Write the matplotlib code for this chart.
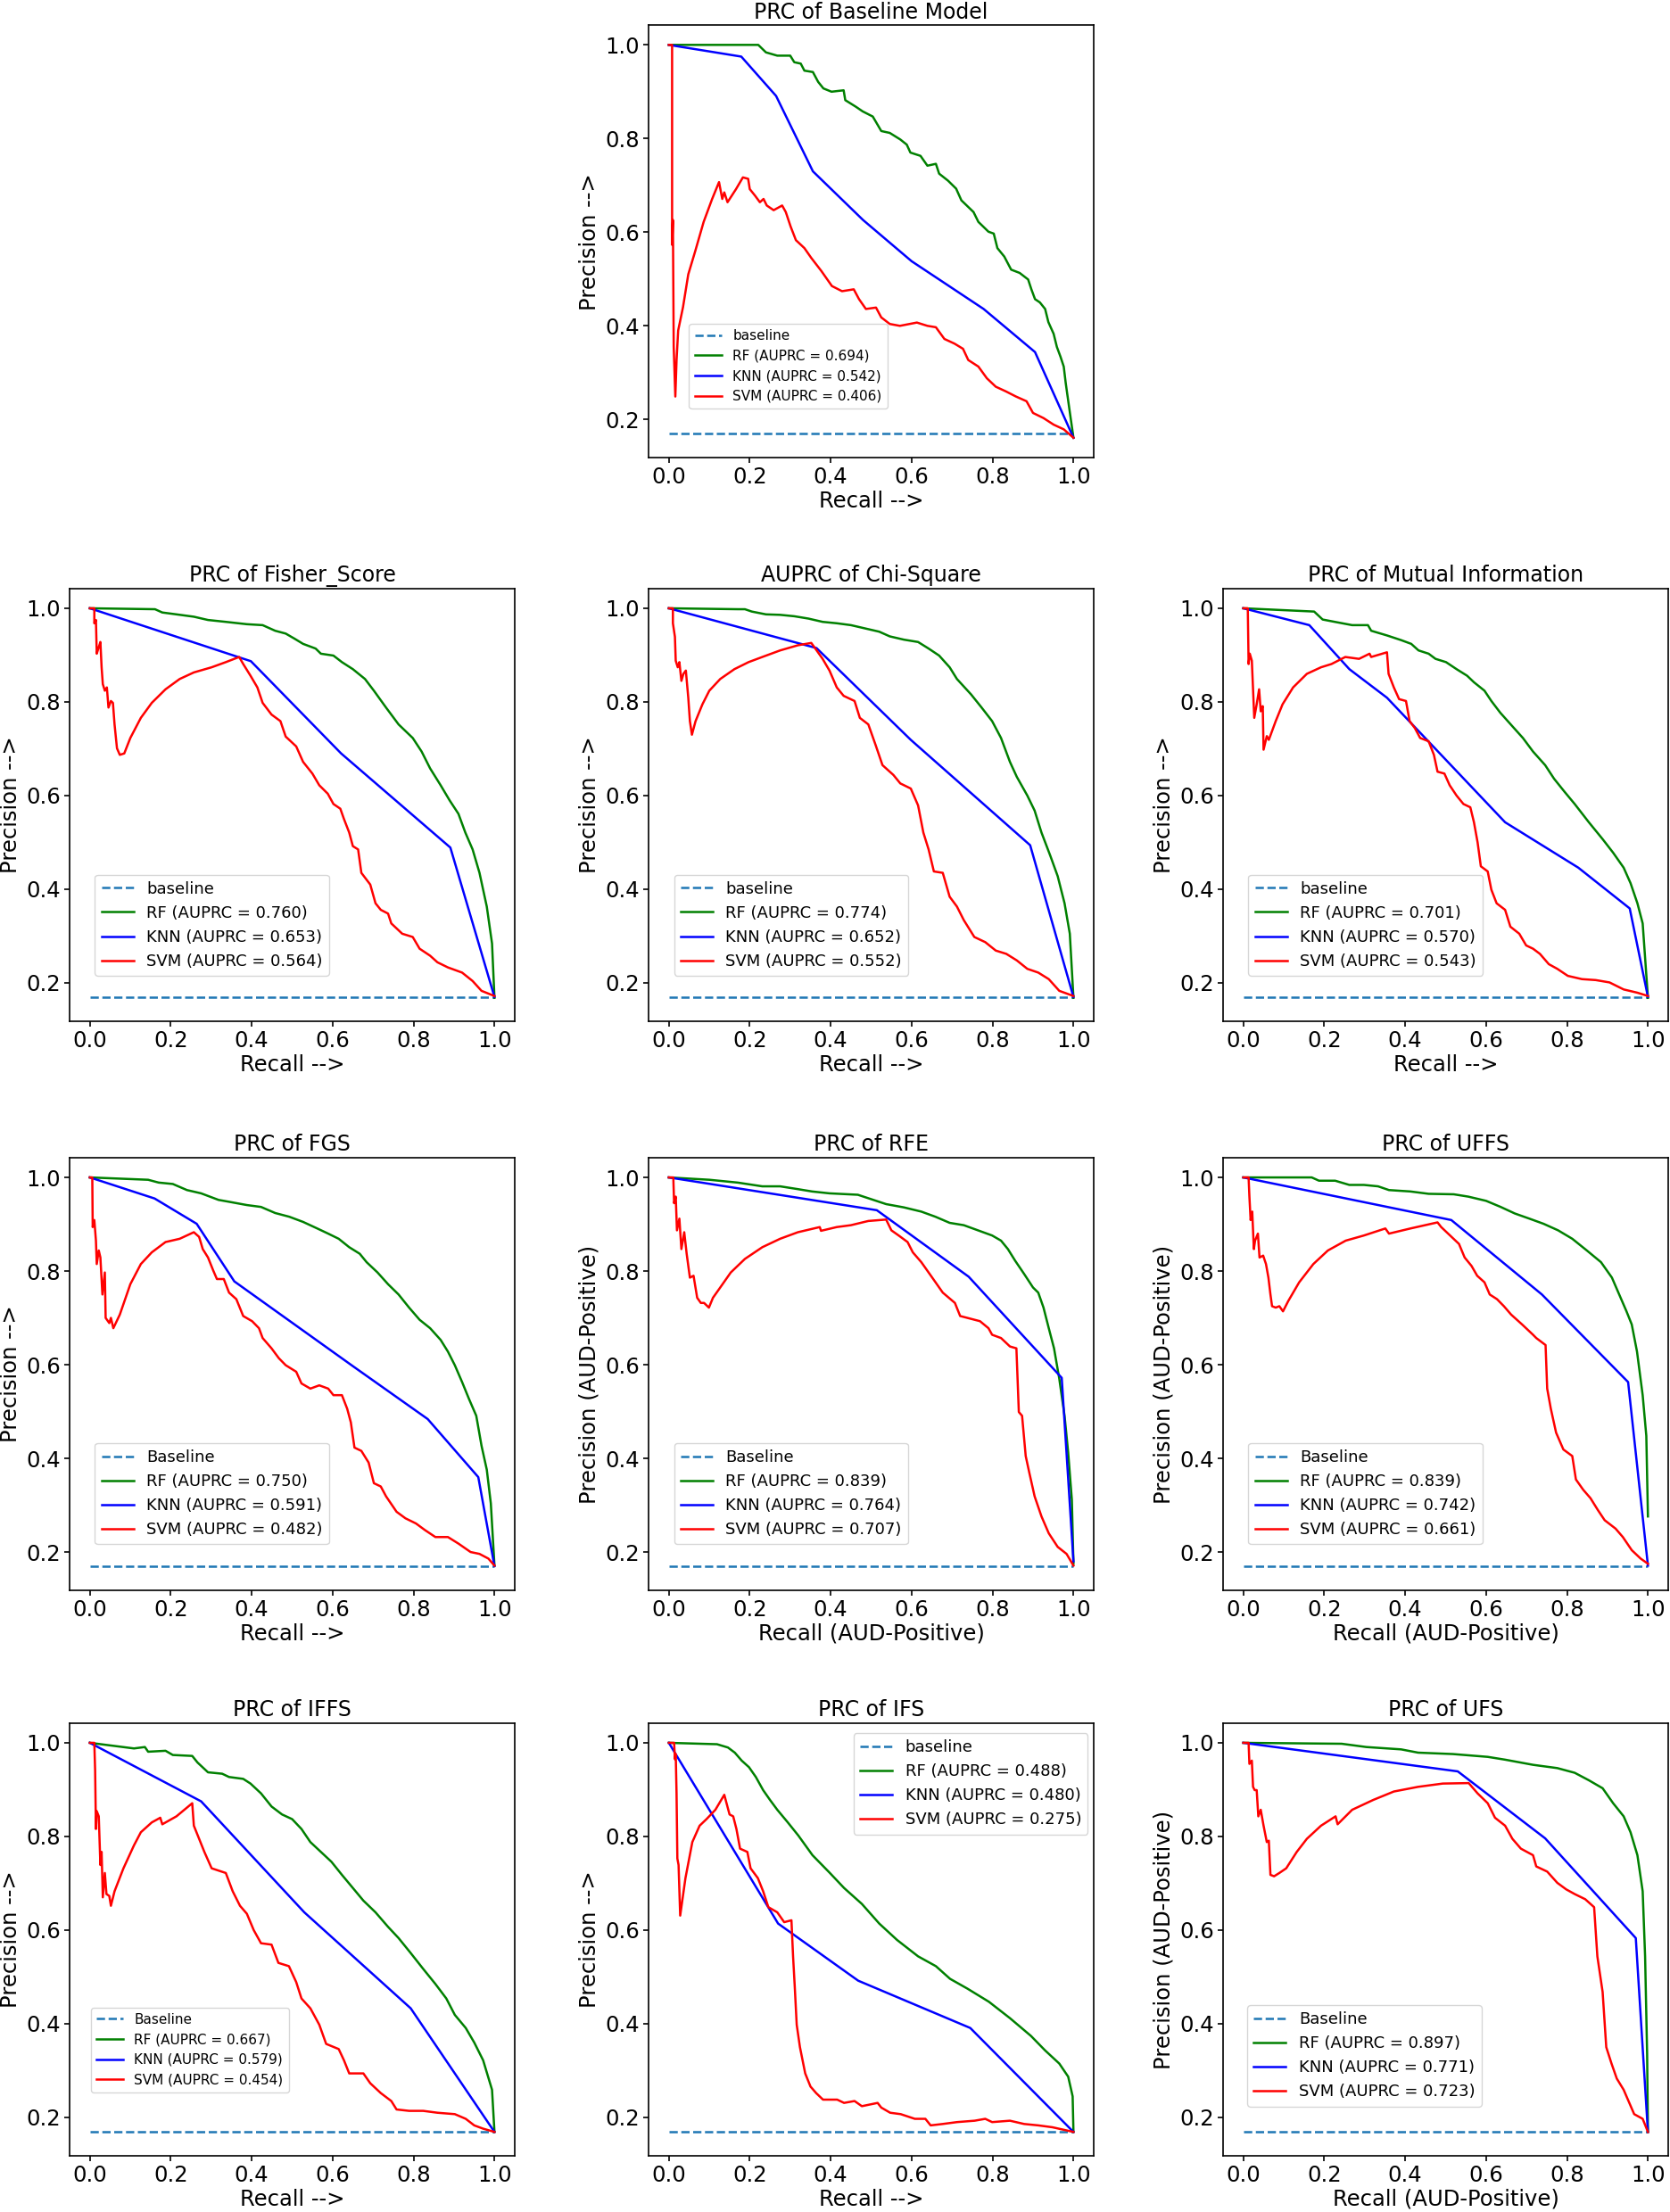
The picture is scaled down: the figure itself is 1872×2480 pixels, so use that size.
import matplotlib.pyplot as plt

# ---- data (recall, precision) ----
baseline_p = 0.17

base_rf = [(0,1.0),(0.221,1.0),(0.24,0.984),(0.268,0.977),(0.30,0.977),(0.31,0.963),(0.326,0.96),(0.335,0.945),
           (0.356,0.942),(0.369,0.921),(0.382,0.907),(0.402,0.90),(0.432,0.903),(0.436,0.882),(0.462,0.868),(0.479,0.858),
           (0.504,0.847),(0.525,0.816),(0.546,0.812),(0.572,0.798),(0.588,0.787),(0.597,0.77),(0.622,0.763),(0.639,0.742),
           (0.66,0.746),(0.668,0.725),(0.69,0.71),(0.71,0.693),(0.723,0.668),(0.753,0.643),(0.765,0.622),(0.79,0.601),
           (0.803,0.597),(0.812,0.566),(0.829,0.548),(0.846,0.52),(0.867,0.513),(0.888,0.499),(0.896,0.478),(0.905,0.457),
           (0.917,0.45),(0.93,0.436),(0.938,0.408),(0.951,0.383),(0.959,0.355),(0.968,0.334),(0.976,0.313),(0.981,0.277),
           (0.989,0.228),(1.0,0.161)]
base_knn = [(0,1.0),(0.179,0.975),(0.265,0.891),(0.356,0.73),(0.48,0.626),(0.60,0.538),(0.778,0.436),(0.905,0.344),(1.0,0.161)]
base_svm = [(0,1.0),(0.008,1.0),(0.008,0.573),(0.010,0.626),(0.012,0.355),(0.016,0.249),(0.019,0.327),(0.023,0.39),
            (0.035,0.44),(0.048,0.51),(0.065,0.559),(0.086,0.622),(0.107,0.671),(0.124,0.707),(0.132,0.671),(0.137,0.685),
            (0.145,0.664),(0.166,0.692),(0.183,0.717),(0.196,0.714),(0.20,0.692),(0.213,0.678),(0.225,0.664),(0.234,0.671),
            (0.242,0.657),(0.259,0.647),(0.28,0.657),(0.289,0.643),(0.301,0.612),(0.314,0.583),(0.335,0.566),(0.352,0.545),
            (0.377,0.517),(0.403,0.485),(0.428,0.474),(0.457,0.478),(0.47,0.457),(0.487,0.436),(0.512,0.439),(0.525,0.418),
            (0.546,0.404),(0.571,0.40),(0.613,0.407),(0.639,0.40),(0.66,0.397),(0.681,0.372),(0.706,0.362),(0.727,0.351),
            (0.74,0.327),(0.765,0.313),(0.786,0.288),(0.808,0.27),(0.833,0.26),(0.858,0.249),(0.884,0.239),(0.90,0.214),
            (0.926,0.203),(0.951,0.189),(0.976,0.179),(1.0,0.161)]

fish_rf = [(0,1.0),(0.161,0.998),(0.179,0.991),(0.214,0.987),(0.257,0.982),(0.292,0.975),(0.336,0.971),(0.388,0.966),
           (0.427,0.964),(0.458,0.952),(0.484,0.946),(0.506,0.935),(0.527,0.924),(0.558,0.914),(0.571,0.903),(0.602,0.899),
           (0.623,0.885),(0.65,0.87),(0.68,0.849),(0.702,0.824),(0.732,0.788),(0.763,0.752),(0.798,0.723),(0.82,0.694),
           (0.841,0.658),(0.867,0.622),(0.889,0.59),(0.911,0.561),(0.928,0.521),(0.946,0.485),(0.963,0.435),(0.981,0.363),
           (0.994,0.284),(1.0,0.168)]
fish_knn = [(0,1.0),(0.398,0.887),(0.621,0.69),(0.891,0.489),(1.0,0.17)]
fish_svm = [(0,1.0),(0.011,1.0),(0.011,0.968),(0.015,0.975),(0.017,0.903),(0.022,0.917),(0.026,0.928),(0.029,0.874),
            (0.032,0.838),(0.037,0.824),(0.042,0.831),(0.046,0.788),(0.052,0.802),(0.057,0.798),(0.061,0.752),(0.067,0.701),
            (0.074,0.687),(0.085,0.69),(0.10,0.723),(0.126,0.766),(0.153,0.798),(0.187,0.827),(0.222,0.849),(0.257,0.863),
            (0.301,0.874),(0.336,0.885),(0.369,0.896),(0.379,0.881),(0.397,0.856),(0.414,0.831),(0.427,0.798),(0.449,0.773),
            (0.471,0.759),(0.484,0.726),(0.51,0.705),(0.527,0.672),(0.55,0.647),(0.567,0.622),(0.588,0.604),(0.602,0.582),
            (0.619,0.572),(0.628,0.55),(0.641,0.521),(0.65,0.492),(0.663,0.485),(0.671,0.435),(0.693,0.41),(0.706,0.37),
            (0.719,0.356),(0.737,0.348),(0.745,0.327),(0.772,0.305),(0.798,0.298),(0.815,0.273),(0.841,0.258),(0.859,0.244),
            (0.885,0.233),(0.92,0.222),(0.946,0.204),(0.968,0.183),(1.0,0.172)]

chi_rf = [(0,1.0),(0.17,0.998),(0.188,0.998),(0.205,0.993),(0.24,0.987),(0.275,0.986),(0.31,0.983),(0.345,0.978),
          (0.38,0.971),(0.415,0.968),(0.45,0.964),(0.485,0.957),(0.52,0.95),(0.546,0.94),(0.581,0.933),(0.616,0.928),
          (0.642,0.914),(0.668,0.899),(0.694,0.874),(0.712,0.849),(0.747,0.816),(0.773,0.788),(0.799,0.759),(0.821,0.723),
          (0.843,0.672),(0.86,0.64),(0.886,0.60),(0.904,0.568),(0.921,0.521),(0.943,0.471),(0.961,0.428),(0.978,0.37),
          (0.991,0.305),(1.0,0.168)]
chi_knn = [(0,1.0),(0.365,0.915),(0.598,0.719),(0.893,0.494),(1.0,0.17)]
chi_svm = [(0,1.0),(0.01,1.0),(0.01,0.968),(0.015,0.939),(0.017,0.888),(0.022,0.874),(0.026,0.885),(0.031,0.845),
           (0.036,0.86),(0.042,0.867),(0.048,0.809),(0.052,0.759),(0.057,0.73),(0.066,0.759),(0.083,0.795),(0.10,0.824),
           (0.127,0.849),(0.162,0.87),(0.197,0.885),(0.231,0.896),(0.275,0.91),(0.319,0.921),(0.352,0.926),(0.362,0.914),
           (0.38,0.892),(0.397,0.867),(0.415,0.831),(0.432,0.813),(0.459,0.802),(0.472,0.766),(0.493,0.752),(0.511,0.708),
           (0.528,0.665),(0.555,0.644),(0.572,0.626),(0.598,0.615),(0.616,0.579),(0.629,0.521),(0.642,0.485),(0.655,0.438),
           (0.677,0.435),(0.694,0.384),(0.712,0.363),(0.729,0.334),(0.755,0.298),(0.782,0.287),(0.808,0.269),(0.834,0.262),
           (0.86,0.248),(0.886,0.23),(0.913,0.222),(0.939,0.208),(0.965,0.183),(1.0,0.172)]

mi_rf = [(0,1.0),(0.175,0.993),(0.196,0.976),(0.226,0.971),(0.269,0.964),(0.308,0.964),(0.316,0.952),(0.355,0.942),
         (0.39,0.932),(0.415,0.924),(0.433,0.91),(0.458,0.903),(0.475,0.892),(0.501,0.885),(0.527,0.87),(0.553,0.856),
         (0.57,0.842),(0.596,0.824),(0.613,0.802),(0.635,0.777),(0.665,0.748),(0.691,0.723),(0.716,0.694),(0.746,0.665),
         (0.768,0.636),(0.794,0.608),(0.819,0.582),(0.854,0.543),(0.888,0.507),(0.914,0.478),(0.94,0.446),(0.957,0.413),
         (0.974,0.37),(0.987,0.327),(1.0,0.168)]
mi_knn = [(0,1.0),(0.163,0.964),(0.262,0.87),(0.355,0.809),(0.647,0.543),(0.828,0.446),(0.955,0.359),(1.0,0.17)]
mi_svm = [(0,1.0),(0.011,1.0),(0.013,0.881),(0.016,0.903),(0.021,0.888),(0.027,0.766),(0.033,0.795),(0.039,0.827),
          (0.043,0.78),(0.048,0.791),(0.05,0.698),(0.058,0.727),(0.063,0.719),(0.08,0.759),(0.097,0.795),(0.123,0.831),
          (0.157,0.86),(0.192,0.874),(0.218,0.881),(0.252,0.896),(0.286,0.892),(0.312,0.903),(0.316,0.896),(0.355,0.906),
          (0.359,0.86),(0.372,0.831),(0.385,0.806),(0.402,0.802),(0.411,0.759),(0.424,0.744),(0.437,0.723),(0.458,0.716),
          (0.471,0.687),(0.48,0.651),(0.497,0.647),(0.51,0.622),(0.527,0.60),(0.544,0.582),(0.561,0.575),(0.57,0.543),
          (0.579,0.50),(0.587,0.449),(0.604,0.438),(0.613,0.399),(0.626,0.37),(0.647,0.356),(0.66,0.32),(0.682,0.305),
          (0.699,0.28),(0.716,0.273),(0.733,0.262),(0.755,0.24),(0.776,0.23),(0.802,0.215),(0.837,0.208),(0.871,0.206),
          (0.905,0.201),(0.94,0.186),(0.974,0.179),(1.0,0.172)]

fgs_rf = [(0,1.0),(0.144,0.995),(0.17,0.989),(0.205,0.986),(0.24,0.973),(0.275,0.966),(0.318,0.952),(0.344,0.948),
          (0.388,0.941),(0.423,0.937),(0.458,0.924),(0.493,0.916),(0.527,0.905),(0.562,0.891),(0.589,0.88),(0.615,0.869),
          (0.641,0.851),(0.667,0.837),(0.684,0.819),(0.711,0.797),(0.737,0.772),(0.763,0.75),(0.789,0.722),(0.815,0.696),
          (0.841,0.678),(0.867,0.653),(0.885,0.628),(0.902,0.599),(0.92,0.563),(0.937,0.527),(0.955,0.491),(0.968,0.427),
          (0.981,0.376),(0.991,0.304),(1.0,0.171)]
fgs_knn = [(0,1.0),(0.16,0.955),(0.264,0.901),(0.357,0.778),(0.65,0.597),(0.835,0.484),(0.96,0.36),(1.0,0.17)]
fgs_svm = [(0,1.0),(0.006,1.0),(0.007,0.894),(0.011,0.909),(0.015,0.865),(0.017,0.815),(0.022,0.844),(0.026,0.829),
           (0.031,0.75),(0.037,0.797),(0.039,0.70),(0.048,0.689),(0.052,0.70),(0.058,0.678),(0.074,0.707),(0.10,0.772),
           (0.126,0.815),(0.153,0.84),(0.187,0.862),(0.222,0.869),(0.257,0.883),(0.27,0.873),(0.279,0.847),(0.292,0.829),
           (0.305,0.801),(0.314,0.783),(0.331,0.783),(0.344,0.754),(0.362,0.74),(0.379,0.704),(0.401,0.693),(0.418,0.678),
           (0.427,0.657),(0.449,0.635),(0.467,0.614),(0.484,0.599),(0.51,0.585),(0.523,0.56),(0.545,0.549),(0.567,0.556),
           (0.589,0.549),(0.602,0.535),(0.623,0.535),(0.636,0.506),(0.645,0.477),(0.654,0.423),(0.671,0.416),(0.689,0.391),
           (0.702,0.347),(0.719,0.34),(0.732,0.319),(0.758,0.286),(0.78,0.272),(0.806,0.261),(0.828,0.247),(0.854,0.232),
           (0.885,0.232),(0.911,0.218),(0.941,0.20),(0.963,0.196),(0.985,0.186),(1.0,0.171)]

rfe_rf = [(0,1.0),(0.10,0.995),(0.17,0.989),(0.231,0.981),(0.275,0.981),(0.319,0.975),(0.354,0.97),(0.397,0.966),
          (0.467,0.963),(0.502,0.953),(0.537,0.943),(0.581,0.936),(0.624,0.927),(0.659,0.916),(0.694,0.903),(0.729,0.898),
          (0.764,0.887),(0.799,0.876),(0.821,0.865),(0.838,0.847),(0.856,0.822),(0.878,0.794),(0.90,0.765),(0.913,0.754),
          (0.926,0.722),(0.939,0.678),(0.952,0.635),(0.965,0.57),(0.978,0.491),(0.987,0.412),(0.996,0.312),(1.0,0.175)]
rfe_knn = [(0,1.0),(0.514,0.93),(0.741,0.788),(0.971,0.572),(1.0,0.18)]
rfe_svm = [(0,1.0),(0.011,1.0),(0.013,0.945),(0.017,0.959),(0.02,0.887),(0.026,0.912),(0.031,0.847),(0.038,0.883),
           (0.044,0.837),(0.052,0.786),(0.061,0.79),(0.07,0.743),(0.079,0.732),(0.087,0.732),(0.099,0.722),(0.109,0.743),
           (0.127,0.765),(0.153,0.797),(0.188,0.826),(0.231,0.851),(0.275,0.869),(0.319,0.883),(0.373,0.894),(0.376,0.886),
           (0.415,0.894),(0.45,0.898),(0.493,0.907),(0.537,0.91),(0.55,0.887),(0.568,0.876),(0.59,0.862),(0.603,0.84),
           (0.624,0.819),(0.651,0.786),(0.677,0.754),(0.707,0.732),(0.72,0.704),(0.738,0.70),(0.769,0.693),(0.79,0.678),
           (0.799,0.664),(0.821,0.657),(0.843,0.639),(0.859,0.635),(0.865,0.499),(0.873,0.491),(0.882,0.405),(0.891,0.369),
           (0.904,0.319),(0.921,0.276),(0.939,0.24),(0.961,0.211),(0.983,0.196),(1.0,0.171)]

uffs_rf = [(0,1.0),(0.169,1.0),(0.187,0.993),(0.227,0.993),(0.262,0.984),(0.298,0.984),(0.333,0.981),(0.36,0.973),
           (0.413,0.97),(0.458,0.965),(0.52,0.964),(0.556,0.959),(0.60,0.95),(0.636,0.937),(0.671,0.923),(0.707,0.912),
           (0.742,0.901),(0.778,0.887),(0.813,0.869),(0.849,0.844),(0.884,0.819),(0.911,0.786),(0.929,0.75),(0.947,0.714),
           (0.96,0.686),(0.973,0.628),(0.987,0.535),(0.996,0.448),(1.0,0.276)]
uffs_knn = [(0,1.0),(0.514,0.909),(0.738,0.75),(0.951,0.563),(1.0,0.171)]
uffs_svm = [(0,1.0),(0.013,1.0),(0.015,0.959),(0.018,0.909),(0.022,0.927),(0.026,0.847),(0.029,0.865),(0.036,0.88),
            (0.04,0.829),(0.049,0.833),(0.056,0.815),(0.062,0.786),(0.067,0.75),(0.071,0.725),(0.08,0.722),(0.089,0.725),
            (0.098,0.714),(0.111,0.736),(0.138,0.776),(0.173,0.815),(0.209,0.844),(0.253,0.865),(0.298,0.876),(0.351,0.891),
            (0.36,0.88),(0.413,0.891),(0.48,0.904),(0.489,0.894),(0.511,0.876),(0.533,0.858),(0.547,0.829),(0.564,0.811),
            (0.578,0.79),(0.596,0.776),(0.609,0.75),(0.627,0.74),(0.644,0.725),(0.662,0.707),(0.689,0.686),(0.716,0.664),
            (0.724,0.657),(0.747,0.642),(0.751,0.549),(0.76,0.506),(0.773,0.455),(0.791,0.419),(0.813,0.405),(0.822,0.355),
            (0.84,0.333),(0.858,0.315),(0.876,0.29),(0.893,0.268),(0.92,0.25),(0.938,0.232),(0.96,0.204),(0.982,0.186),
            (1.0,0.175)]

iffs_rf = [(0,1.0),(0.109,0.988),(0.136,0.991),(0.144,0.981),(0.187,0.983),(0.205,0.974),(0.253,0.972),(0.266,0.958),
           (0.292,0.937),(0.327,0.934),(0.344,0.927),(0.379,0.923),(0.397,0.913),(0.423,0.892),(0.449,0.864),(0.475,0.847),
           (0.50,0.837),(0.523,0.816),(0.545,0.788),(0.571,0.767),(0.597,0.746),(0.623,0.718),(0.65,0.69),(0.676,0.663),
           (0.706,0.638),(0.737,0.607),(0.763,0.583),(0.793,0.551),(0.824,0.517),(0.854,0.485),(0.881,0.454),(0.902,0.419),
           (0.929,0.391),(0.95,0.36),(0.972,0.322),(0.994,0.259),(1.0,0.169)]
iffs_knn = [(0,1.0),(0.275,0.875),(0.53,0.638),(0.793,0.433),(1.0,0.169)]
iffs_svm = [(0,1.0),(0.011,1.0),(0.013,0.941),(0.015,0.816),(0.017,0.854),(0.022,0.843),(0.026,0.739),(0.029,0.767),
            (0.032,0.67),(0.037,0.722),(0.041,0.677),(0.048,0.673),(0.052,0.652),(0.061,0.683),(0.083,0.732),(0.109,0.781),
            (0.126,0.809),(0.153,0.83),(0.174,0.84),(0.179,0.826),(0.214,0.843),(0.253,0.871),(0.257,0.823),(0.27,0.795),
            (0.283,0.767),(0.301,0.732),(0.336,0.722),(0.353,0.683),(0.371,0.652),(0.388,0.635),(0.405,0.60),(0.423,0.572),
            (0.449,0.569),(0.466,0.53),(0.492,0.523),(0.51,0.489),(0.523,0.454),(0.545,0.433),(0.567,0.398),(0.584,0.357),
            (0.615,0.346),(0.628,0.322),(0.641,0.294),(0.676,0.294),(0.693,0.273),(0.719,0.252),(0.745,0.235),(0.758,0.217),
            (0.789,0.214),(0.824,0.214),(0.859,0.21),(0.902,0.207),(0.929,0.197),(0.95,0.183),(0.972,0.176),(1.0,0.169)]

ifs_rf = [(0,1.0),(0.119,0.997),(0.146,0.99),(0.163,0.979),(0.18,0.962),(0.198,0.948),(0.215,0.927),(0.233,0.899),
          (0.25,0.878),(0.268,0.857),(0.294,0.83),(0.32,0.802),(0.355,0.76),(0.398,0.722),(0.433,0.69),(0.477,0.656),
          (0.52,0.614),(0.564,0.579),(0.616,0.544),(0.66,0.523),(0.695,0.496),(0.738,0.475),(0.791,0.447),(0.843,0.412),
          (0.895,0.374),(0.93,0.343),(0.965,0.315),(0.987,0.287),(0.998,0.245),(1.0,0.169)]
ifs_knn = [(0,1.0),(0.27,0.614),(0.468,0.492),(0.745,0.391),(1.0,0.169)]
ifs_svm = [(0,1.0),(0.013,1.0),(0.015,0.965),(0.017,0.976),(0.019,0.892),(0.021,0.753),(0.024,0.739),(0.028,0.631),
           (0.041,0.711),(0.058,0.788),(0.076,0.823),(0.093,0.837),(0.115,0.857),(0.137,0.889),(0.15,0.847),(0.159,0.843),
           (0.167,0.816),(0.176,0.774),(0.194,0.767),(0.202,0.732),(0.22,0.711),(0.233,0.683),(0.246,0.649),(0.268,0.638),
           (0.285,0.617),(0.303,0.621),(0.307,0.544),(0.311,0.482),(0.316,0.398),(0.324,0.35),(0.337,0.294),(0.35,0.266),
           (0.364,0.252),(0.381,0.238),(0.416,0.238),(0.433,0.231),(0.459,0.235),(0.477,0.224),(0.516,0.231),(0.525,0.221),
           (0.547,0.21),(0.573,0.207),(0.608,0.197),(0.634,0.197),(0.647,0.183),(0.677,0.186),(0.712,0.19),(0.756,0.193),
           (0.782,0.197),(0.799,0.19),(0.843,0.193),(0.878,0.186),(0.913,0.183),(0.948,0.179),(1.0,0.169)]

ufs_rf = [(0,1.0),(0.243,0.998),(0.304,0.991),(0.39,0.986),(0.432,0.979),(0.518,0.976),(0.604,0.97),(0.647,0.964),
          (0.716,0.953),(0.776,0.946),(0.819,0.936),(0.854,0.92),(0.888,0.903),(0.914,0.871),(0.94,0.843),(0.957,0.809),
          (0.974,0.76),(0.987,0.683),(0.993,0.544),(0.998,0.336),(1.0,0.169)]
ufs_knn = [(0,1.0),(0.53,0.939),(0.746,0.796),(0.97,0.583),(1.0,0.169)]
ufs_svm = [(0,1.0),(0.013,1.0),(0.015,0.955),(0.021,0.962),(0.024,0.906),(0.028,0.899),(0.033,0.899),(0.037,0.843),
           (0.043,0.857),(0.05,0.823),(0.058,0.788),(0.063,0.791),(0.067,0.718),(0.076,0.715),(0.089,0.722),(0.106,0.732),
           (0.132,0.767),(0.157,0.795),(0.192,0.823),(0.228,0.843),(0.233,0.826),(0.269,0.857),(0.321,0.878),(0.372,0.896),
           (0.432,0.906),(0.493,0.913),(0.557,0.914),(0.579,0.892),(0.604,0.871),(0.622,0.84),(0.647,0.823),(0.665,0.795),
           (0.686,0.774),(0.716,0.76),(0.724,0.736),(0.751,0.725),(0.776,0.701),(0.798,0.687),(0.819,0.677),(0.845,0.666),
           (0.867,0.649),(0.875,0.544),(0.888,0.468),(0.897,0.35),(0.91,0.315),(0.923,0.283),(0.94,0.259),(0.966,0.207),
           (0.987,0.197),(1.0,0.169)]

titles = ["PRC of Baseline Model", "PRC of Fisher_Score", "AUPRC of Chi-Square", "PRC of Mutual Information",
          "PRC of FGS", "PRC of RFE", "PRC of UFFS", "PRC of IFFS", "PRC of IFS", "PRC of UFS"]
auprc = [(0.694, 0.542, 0.406), (0.760, 0.653, 0.564), (0.774, 0.652, 0.552), (0.701, 0.570, 0.543),
         (0.750, 0.591, 0.482), (0.839, 0.764, 0.707), (0.839, 0.742, 0.661), (0.667, 0.579, 0.454),
         (0.488, 0.480, 0.275), (0.897, 0.771, 0.723)]
base_names = ["baseline", "baseline", "baseline", "baseline", "Baseline", "Baseline", "Baseline",
              "Baseline", "baseline", "Baseline"]
curves = [(base_rf, base_knn, base_svm), (fish_rf, fish_knn, fish_svm), (chi_rf, chi_knn, chi_svm),
          (mi_rf, mi_knn, mi_svm), (fgs_rf, fgs_knn, fgs_svm), (rfe_rf, rfe_knn, rfe_svm),
          (uffs_rf, uffs_knn, uffs_svm), (iffs_rf, iffs_knn, iffs_svm), (ifs_rf, ifs_knn, ifs_svm),
          (ufs_rf, ufs_knn, ufs_svm)]
aud = [False, False, False, False, False, True, True, False, False, True]

# ---- layout ----
plt.rcParams['font.size'] = 17.5
plt.rcParams['axes.linewidth'] = 1.2
fig = plt.figure(figsize=(18.72, 24.8), dpi=100)

cols = [0.0417, 0.3884, 0.7324]
rows = [0.7930, 0.5383, 0.2810, 0.0254]
w, h = 0.2665, 0.1956
slots = [(1, 0), (0, 1), (1, 1), (2, 1), (0, 2), (1, 2), (2, 2), (0, 3), (1, 3), (2, 3)]

leg_fs = [11, 13, 13, 13, 13, 13, 13, 11, 13, 13]
leg_anchor = [(0.091, 0.114), (0.057, 0.105), (0.057, 0.105), (0.057, 0.105), (0.057, 0.107),
              (0.057, 0.107), (0.057, 0.107), (0.047, 0.147), (0.987, 0.977), (0.054, 0.114)]

lw = 1.8
for i in range(10):
    c, r = slots[i]
    ax = fig.add_axes([cols[c], rows[r], w, h])
    rf, knn, svm = curves[i]
    a_rf, a_knn, a_svm = auprc[i]
    ax.plot([0, 1], [baseline_p, baseline_p], '--', color='tab:blue', lw=lw, label=base_names[i])
    ax.plot([p[0] for p in rf], [p[1] for p in rf], color='green', lw=lw,
            label='RF (AUPRC = %.3f)' % a_rf)
    ax.plot([p[0] for p in knn], [p[1] for p in knn], color='blue', lw=lw,
            label='KNN (AUPRC = %.3f)' % a_knn)
    ax.plot([p[0] for p in svm], [p[1] for p in svm], color='red', lw=lw,
            label='SVM (AUPRC = %.3f)' % a_svm)
    ax.set_xlim(-0.05, 1.05)
    ax.set_ylim(0.118, 1.042)
    ax.set_xticks([0.0, 0.2, 0.4, 0.6, 0.8, 1.0])
    ax.set_yticks([0.2, 0.4, 0.6, 0.8, 1.0])
    ax.tick_params(length=4.3, width=1.2, pad=2.8)
    ax.set_title(titles[i], fontsize=17, pad=5.5)
    if aud[i]:
        ax.set_xlabel('Recall (AUD-Positive)', labelpad=2)
        ax.set_ylabel('Precision (AUD-Positive)', labelpad=4)
    else:
        ax.set_xlabel('Recall -->', labelpad=2)
        ax.set_ylabel('Precision -->', labelpad=4)
    if i == 8:
        ax.legend(loc='upper right', bbox_to_anchor=leg_anchor[i], borderaxespad=0, fontsize=leg_fs[i])
    else:
        ax.legend(loc='lower left', bbox_to_anchor=leg_anchor[i], borderaxespad=0, fontsize=leg_fs[i])

plt.savefig('out.png', dpi=100)
